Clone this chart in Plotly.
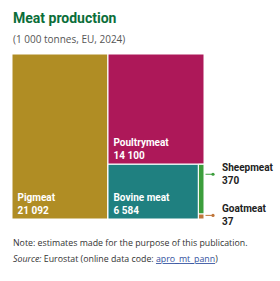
import plotly.graph_objects as go

# Data
categories = ["Pigmeat", "Poultrymeat", "Bovine meat", "Sheepmeat", "Goatmeat"]
values = [21092, 14100, 6584, 370, 37]
colors = ["#b08d24", "#ad1859", "#1f8080", "#3c9e3c", "#c0763a"]

# hierarchy (hidden grouping nodes create the slice/dice layout)
ids = ["all", "g1", "g2", "g3"] + categories
labels = ["", "", "", ""] + categories
parents = ["", "all", "g1", "g2", "all", "g1", "g2", "g3", "g3"]
v = dict(zip(categories, values))
g3 = v["Sheepmeat"] + v["Goatmeat"]
g2 = v["Bovine meat"] + g3
g1 = v["Poultrymeat"] + g2
tot = v["Pigmeat"] + g1
vals = [tot, g1, g2, g3] + values
cols = ["white"] * 4 + colors
tmpl = [""] * 4 + ["<b>&nbsp;%{label}<br>&nbsp;%{value:,}</b>"] * 3 + ["", ""]

x0, x1 = 12 / 280, 204 / 280
y0, y1 = 1 - 219 / 281, 1 - 54 / 281

fig = go.Figure(go.Treemap(
    ids=ids, labels=labels, parents=parents, values=vals,
    branchvalues="total", sort=True,
    marker=dict(colors=cols, line=dict(color="white", width=1),
                pad=dict(t=0, l=0, r=0, b=0)),
    texttemplate=tmpl, textposition="bottom left",
    textfont=dict(family="Roboto", size=10, color="white"),
    tiling=dict(packing="slice-dice", pad=0),
    pathbar=dict(visible=False),
    hoverinfo="skip",
    domain=dict(x=[x0, x1], y=[y0, y1]),
))

# positions of outside labels derived from the data layout
H = y1 - y0
frac_goat = v["Goatmeat"] / g3
small_top = y1 - H * (v["Poultrymeat"] / g1)
goat_top = y0 + (small_top - y0) * frac_goat
sheep_y = small_top - 0.2 * (small_top - goat_top)
goat_y = (goat_top + y0) / 2 + 0.004

ahead = x1 + 9 / 280
tx = 220 / 280
lblfont = dict(family="Roboto", size=10, color="#222")
annots = []
annots.append(dict(x=ahead, y=sheep_y, ax=-9, ay=0,
                   xref="paper", yref="paper", text="", showarrow=True,
                   arrowhead=6, arrowsize=0.8, arrowwidth=1, arrowcolor=colors[3]))
annots.append(dict(x=tx, y=sheep_y, xref="paper", yref="paper",
                   xanchor="left", yanchor="middle", showarrow=False, align="left",
                   text="<b>Sheepmeat<br>370</b>", font=lblfont))
annots.append(dict(x=ahead, y=goat_y, ax=-9, ay=0,
                   xref="paper", yref="paper", text="", showarrow=True,
                   arrowhead=6, arrowsize=0.8, arrowwidth=1, arrowcolor=colors[4]))
annots.append(dict(x=tx, y=goat_y, xref="paper", yref="paper",
                   xanchor="left", yanchor="middle", showarrow=False, align="left",
                   text="<b>Goatmeat<br>37</b>", font=lblfont))

annots.append(dict(x=11 / 280, y=1 - 18 / 281, xref="paper", yref="paper",
                   xanchor="left", yanchor="middle", showarrow=False,
                   text="<b>Meat production</b>",
                   font=dict(family="Roboto", size=14, color="#0b6e3a")))
annots.append(dict(x=11 / 280, y=1 - 39 / 281, xref="paper", yref="paper",
                   xanchor="left", yanchor="middle", showarrow=False,
                   text="(1 000 tonnes, EU, 2024)",
                   font=dict(family="Open Sans", size=10, color="#555")))
annots.append(dict(x=11 / 280, y=1 - 243 / 281, xref="paper", yref="paper",
                   xanchor="left", yanchor="middle", showarrow=False,
                   text="Note: estimates made for the purpose of this publication.",
                   font=dict(family="Open Sans", size=8.8, color="#333")))
annots.append(dict(x=11 / 280, y=1 - 259 / 281, xref="paper", yref="paper",
                   xanchor="left", yanchor="middle", showarrow=False,
                   text="<i>Source:</i> Eurostat (online data code: <span style='color:#3552a0'><u>apro_mt_pann</u></span>)",
                   font=dict(family="Open Sans", size=8.8, color="#333")))

fig.update_layout(
    width=280, height=281, margin=dict(l=0, r=0, t=0, b=0),
    paper_bgcolor="white", separators=". ",
    uniformtext=dict(minsize=10, mode="show"),
    annotations=annots,
)
fig.write_html("out.html")
